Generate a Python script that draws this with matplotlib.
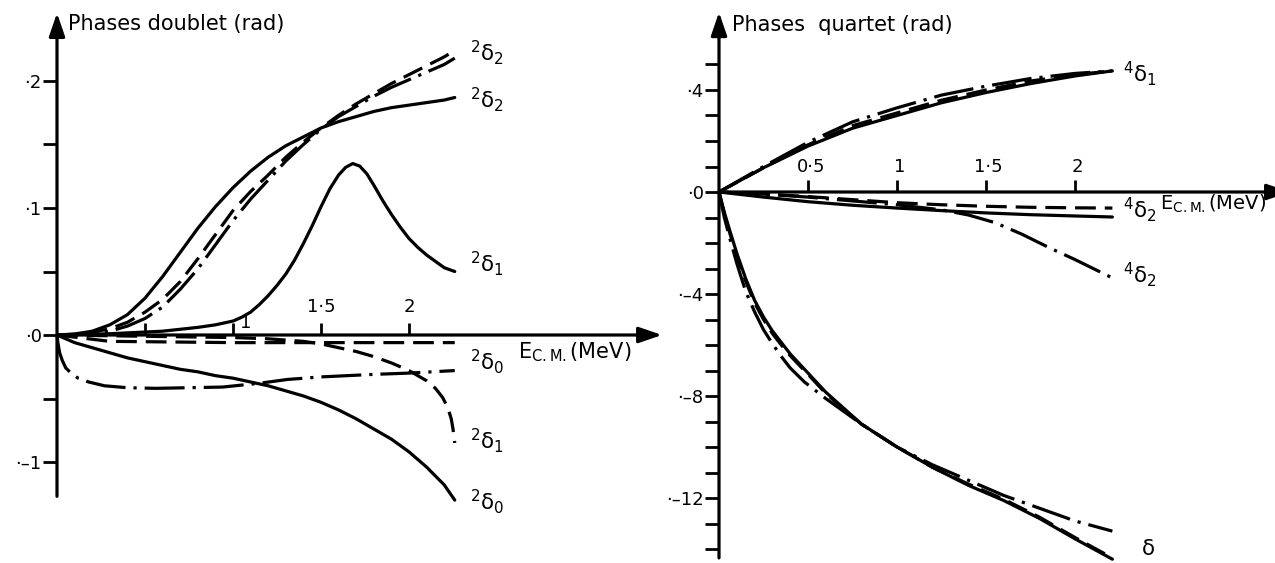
import matplotlib
matplotlib.use("Agg")
import matplotlib.pyplot as plt

plt.rcParams['font.family'] = ['DejaVu Sans']
plt.rcParams['mathtext.fontset'] = 'dejavusans'
plt.rcParams['lines.solid_joinstyle'] = 'round'
plt.rcParams['lines.dash_joinstyle'] = 'round'

# ---------------- doublet phases (left panel) ----------------
E_fine = [0, 0.1, 0.2, 0.3, 0.4, 0.5, 0.6, 0.7, 0.8, 0.9, 1.0, 1.1, 1.2, 1.3,
          1.4, 1.5, 1.6, 1.7, 1.8, 1.9, 2.0, 2.1, 2.2, 2.26]
# solid 2δ2
d2_sol_y = [0, 0.0008, 0.003, 0.008, 0.016, 0.029, 0.046, 0.065, 0.084, 0.101, 0.116,
            0.129, 0.140, 0.149, 0.156, 0.163, 0.168, 0.172, 0.176, 0.179, 0.181,
            0.183, 0.185, 0.187]
# dashed 2δ2
d2_dash_y = [0, 0.0005, 0.002, 0.005, 0.010, 0.018, 0.028, 0.042, 0.060, 0.079, 0.098,
             0.113, 0.126, 0.140, 0.152, 0.163, 0.173, 0.182, 0.190, 0.198, 0.205,
             0.212, 0.219, 0.224]
# dash-dot 2δ2
d2_dd_y = [0, 0.0003, 0.001, 0.003, 0.007, 0.013, 0.022, 0.036, 0.052, 0.071, 0.090,
           0.107, 0.122, 0.137, 0.150, 0.162, 0.172, 0.180, 0.188, 0.195, 0.201,
           0.207, 0.213, 0.218]
# solid 2δ0
d0_sol_y = [0, -0.006, -0.010, -0.014, -0.018, -0.021, -0.024, -0.027, -0.029, -0.032,
            -0.034, -0.037, -0.040, -0.044, -0.048, -0.053, -0.059, -0.066, -0.074,
            -0.082, -0.092, -0.104, -0.118, -0.130]
# solid 2δ1 (resonance)
d1_sol_E = [0, 0.3, 0.6, 0.8, 0.9, 1.0, 1.05, 1.1, 1.15, 1.2, 1.25, 1.3, 1.35, 1.4,
            1.45, 1.5, 1.55, 1.6, 1.64, 1.68, 1.72, 1.76, 1.8, 1.85, 1.9, 1.95, 2.0,
            2.05, 2.1, 2.15, 2.2, 2.26]
d1_sol_y = [0, 0.001, 0.003, 0.006, 0.008, 0.011, 0.014, 0.018, 0.024, 0.031, 0.039,
            0.048, 0.059, 0.072, 0.086, 0.101, 0.115, 0.126, 0.132, 0.135, 0.133,
            0.127, 0.118, 0.106, 0.095, 0.085, 0.076, 0.069, 0.063, 0.058, 0.053,
            0.050]
# dashed 2δ1
d1_dash_E = [0, 0.5, 1.0, 1.2, 1.4, 1.5, 1.6, 1.7, 1.8, 1.9, 2.0, 2.05, 2.1, 2.15,
             2.19, 2.22, 2.24, 2.25, 2.26]
d1_dash_y = [0, -0.001, -0.002, -0.003, -0.005, -0.007, -0.010, -0.013, -0.017,
             -0.022, -0.028, -0.032, -0.036, -0.042, -0.049, -0.057, -0.066, -0.074,
             -0.085]
# dashed 2δ0
d0_dash_E = [0, 0.3, 1.0, 2.26]
d0_dash_y = [0, -0.005, -0.006, -0.006]
# dash-dot 2δ0
d0_dd_E = [0, 0.005, 0.015, 0.03, 0.05, 0.08, 0.12, 0.18, 0.27, 0.4, 0.56, 0.75,
           0.94, 1.15, 1.31, 1.5, 1.8, 2.0, 2.26]
d0_dd_y = [0, -0.006, -0.014, -0.020, -0.026, -0.030, -0.034, -0.037, -0.040,
           -0.0415, -0.042, -0.0415, -0.041, -0.038, -0.035, -0.033, -0.031, -0.030,
           -0.028]

# ---------------- quartet phases (right panel) ----------------
q1_E = [0, 0.25, 0.5, 0.75, 1.0, 1.25, 1.5, 1.75, 2.0, 2.21]
q1_sol_y = [0, 0.95, 1.8, 2.5, 3.0, 3.5, 3.9, 4.25, 4.55, 4.75]
q1_dash_y = [0, 0.95, 1.85, 2.6, 3.1, 3.6, 4.0, 4.35, 4.6, 4.75]
q1_dd_y = [0, 1.0, 1.95, 2.75, 3.3, 3.8, 4.15, 4.45, 4.65, 4.75]

q2_E = [0, 0.25, 0.5, 0.75, 1.0, 1.25, 1.5, 1.75, 2.0, 2.21]
q2_sol_y = [0, -0.2, -0.38, -0.52, -0.63, -0.73, -0.82, -0.89, -0.94, -0.98]
q2_dash_y = [0, -0.08, -0.18, -0.3, -0.42, -0.5, -0.56, -0.6, -0.62, -0.63]
q2_dd_E = [0, 0.25, 0.5, 0.75, 1.0, 1.25, 1.4, 1.55, 1.7, 1.86, 2.0, 2.21]
q2_dd_y = [0, -0.08, -0.2, -0.35, -0.5, -0.7, -0.9, -1.2, -1.65, -2.2, -2.65, -3.37]

q0_E = [0, 0.03, 0.06, 0.1, 0.15, 0.2, 0.25, 0.3, 0.35, 0.4, 0.5, 0.6, 0.8, 1.0,
        1.2, 1.4, 1.6, 1.8, 2.0, 2.21]
q0_sol_y = [0, -0.8, -1.5, -2.4, -3.4, -4.25, -4.9, -5.45, -5.9, -6.35, -7.1, -7.85,
            -9.1, -10.0, -10.8, -11.5, -12.1, -12.8, -13.6, -14.4]
q0_dash_y = [0, -0.85, -1.6, -2.5, -3.5, -4.35, -5.0, -5.55, -6.0, -6.42, -7.15,
             -7.9, -9.1, -10.0, -10.8, -11.45, -12.05, -12.75, -13.55, -14.35]
q0_dd_E = [0, 0.03, 0.06, 0.1, 0.15, 0.2, 0.25, 0.3, 0.35, 0.4, 0.48, 0.6, 0.8, 1.0,
           1.2, 1.4, 1.6, 1.8, 2.0, 2.21]
q0_dd_y = [0, -1.0, -1.8, -2.8, -3.9, -4.7, -5.4, -5.95, -6.45, -6.9, -7.45, -8.1,
           -9.1, -10.0, -10.7, -11.3, -11.9, -12.4, -12.9, -13.3]

# axis ticks and labels
left_yticks = [-0.1, 0.0, 0.1, 0.2]
left_yticklabels = ['·–1', '·0', '·1', '·2']
left_yminor = [-0.05, 0.05, 0.15]
left_xticks = [0.5, 1.0, 1.5, 2.0]
left_xlabels = [(1.0, '1'), (1.5, '1·5'), (2.0, '2')]

right_yticks = list(range(-14, 6))
right_ylabel_map = {4: '·4', 0: '·0', -4: '·–4', -8: '·–8', -12: '·–12'}
right_xticks = [0.5, 1.0, 1.5, 2.0]
right_xlabels = [(0.5, '0·5'), (1.0, '1'), (1.5, '1·5'), (2.0, '2')]

LW = 2.3
DASH = (0, (6.5, 2.8))
DASHDOT = (0, (12.5, 2.5, 1.0, 2.5))
K = 'black'

W, H = 1275, 563
fig = plt.figure(figsize=(W / 100, H / 100), dpi=100)
fig.patch.set_facecolor('white')

axL = fig.add_axes([0, 0, 665 / W, 1])
axR = fig.add_axes([665 / W, 0, 610 / W, 1])

for ax in (axL, axR):
    ax.patch.set_visible(False)
    for s in ax.spines.values():
        s.set_visible(False)
    ax.spines['left'].set_position(('data', 0))
    ax.spines['bottom'].set_position(('data', 0))


def arrow_axis(ax, start, end, hl=0.7, hw=0.24):
    ax.annotate('', xy=end, xytext=start,
                arrowprops=dict(arrowstyle=f'-|>,head_length={hl},head_width={hw}',
                                lw=LW, color=K, mutation_scale=20,
                                shrinkA=0, shrinkB=0),
                annotation_clip=False)


def curve(ax, x, y, ls='-'):
    ax.plot(x, y, color=K, lw=LW, linestyle=ls, dash_capstyle='butt',
            solid_capstyle='round')


# ---- left panel ----
axL.set_xlim(-57 / 176, (665 - 57) / 176)
axL.set_ylim((335 - 563) / 1270, 335 / 1270)

arrow_axis(axL, (0, -0.127), (0, 0.2535))
arrow_axis(axL, (0, 0), ((662 - 57) / 176, 0))

axL.set_yticks(left_yticks, left_yticklabels)
axL.set_yticks(left_yminor, minor=True)
axL.tick_params(axis='y', which='both', direction='out', length=10, width=2,
                labelsize=13, pad=1, colors=K)
axL.set_xticks(left_xticks)
axL.tick_params(axis='x', which='major', direction='in', length=9, width=2,
                labelbottom=False)
axL.tick_params(axis='x', which='minor', length=0)
for xv, txt in left_xlabels:
    dx, yy = (0.07, 0.0095) if txt == '1' else (0.0, 0.022)
    axL.text(xv + dx, yy, txt, ha='center', va='center', fontsize=13)

curve(axL, E_fine, d2_sol_y)
curve(axL, E_fine, d2_dash_y, DASH)
curve(axL, E_fine, d2_dd_y, DASHDOT)
curve(axL, d1_sol_E, d1_sol_y)
curve(axL, d1_dash_E, d1_dash_y, DASH)
curve(axL, d0_dash_E, d0_dash_y, DASH)
curve(axL, d0_dd_E, d0_dd_y, DASHDOT)
curve(axL, E_fine, d0_sol_y)

axL.text(0.0625, 0.245, 'Phases doublet (rad)', fontsize=15, va='center', ha='left')
axL.text(2.62, -0.0135, r'$\mathrm{E}_{\mathrm{C.M.}}$(MeV)', fontsize=15,
         va='center', ha='left')

left_curve_labels = [
    (0.222, r'$^{2}\mathrm{\delta}_{2}$'),
    (0.185, r'$^{2}\mathrm{\delta}_{2}$'),
    (0.056, r'$^{2}\mathrm{\delta}_{1}$'),
    (-0.021, r'$^{2}\mathrm{\delta}_{0}$'),
    (-0.083, r'$^{2}\mathrm{\delta}_{1}$'),
    (-0.131, r'$^{2}\mathrm{\delta}_{0}$'),
]
for yy, txt in left_curve_labels:
    axL.text(2.345, yy, txt, fontsize=15.5, va='center', ha='left')

# ---- right panel ----
axR.set_xlim((665 - 719) / 178, (1275 - 719) / 178)
axR.set_ylim((192 - 563) / 25.5, 192 / 25.5)

arrow_axis(axR, (0, -14.35), (0, 7.05))
arrow_axis(axR, (0, 0), ((1290 - 719) / 178, 0))

axR.set_yticks(right_yticks, [right_ylabel_map.get(v, '') for v in right_yticks])
axR.tick_params(axis='y', direction='out', length=10, width=2,
                labelsize=13, pad=1, colors=K)
axR.set_xticks(right_xticks)
axR.tick_params(axis='x', direction='in', length=9, width=2, labelbottom=False)
for xv, txt in right_xlabels:
    axR.text(xv + 0.015, 1.0, txt, ha='center', va='center', fontsize=13)

curve(axR, q1_E, q1_sol_y)
curve(axR, q1_E, q1_dash_y, DASH)
curve(axR, q1_E, q1_dd_y, DASHDOT)
curve(axR, q2_E, q2_sol_y)
curve(axR, q2_E, q2_dash_y, DASH)
curve(axR, q2_dd_E, q2_dd_y, DASHDOT)
curve(axR, q0_E, q0_sol_y)
curve(axR, q0_E, q0_dash_y, DASH)
curve(axR, q0_dd_E, q0_dd_y, DASHDOT)

axR.text(0.073, 6.55, 'Phases  quartet (rad)', fontsize=15, va='center', ha='left')
axR.text(2.475, -0.45, r'$\mathrm{E}_{\mathrm{C.M.}}$(MeV)', fontsize=14,
         va='center', ha='left')

right_curve_labels = [
    (4.65, r'$^{4}\mathrm{\delta}_{1}$'),
    (-0.7, r'$^{4}\mathrm{\delta}_{2}$'),
    (-3.25, r'$^{4}\mathrm{\delta}_{2}$'),
]
for yy, txt in right_curve_labels:
    axR.text(2.27, yy, txt, fontsize=15.5, va='center', ha='left')
axR.text(2.37, -14.0, r'$\mathrm{\delta}$', fontsize=15.5, va='center', ha='left')

fig.savefig('out.png', dpi=100, facecolor='white')
